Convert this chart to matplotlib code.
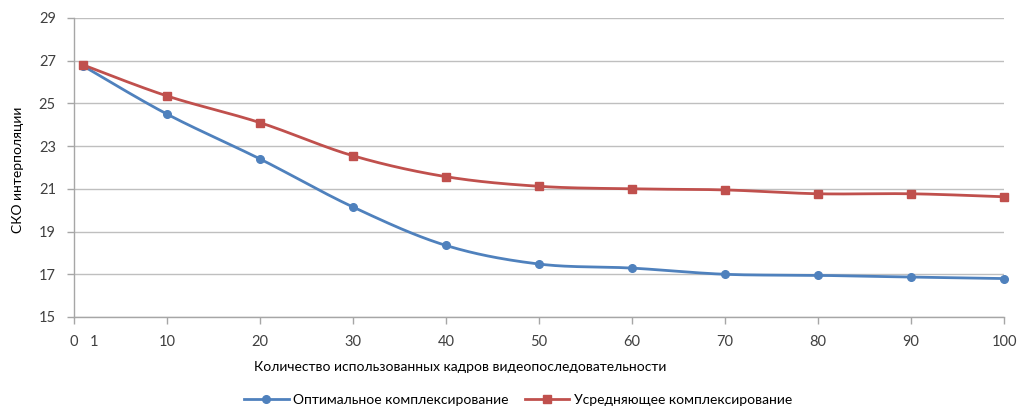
import numpy as np
import matplotlib
matplotlib.use("Agg")
import matplotlib.pyplot as plt
from matplotlib.lines import Line2D
import matplotlib.transforms as mtransforms

plt.rcParams['font.family'] = ['Lato', 'DejaVu Sans']

frames = [1, 10, 20, 30, 40, 50, 60, 70, 80, 90, 100]
optimal = [26.75, 24.5, 22.4, 20.15, 18.35, 17.48, 17.29, 17.0, 16.95, 16.87, 16.8]
averaging = [26.8, 25.35, 24.1, 22.55, 21.57, 21.12, 21.0, 20.95, 20.77, 20.77, 20.63]
series_names = ["Оптимальное комплексирование", "Усредняющее комплексирование"]
x_ticks = [0, 10, 20, 30, 40, 50, 60, 70, 80, 90, 100]
y_ticks = [15, 17, 19, 21, 23, 25, 27, 29]
xlabel = "Количество использованных кадров видеопоследовательности"
ylabel = "СКО интерполяции"

BLUE = "#4F81BD"
RED = "#C0504D"
TXT = "#404040"


def smooth(x, y, n=30):
    x = np.asarray(x, float); y = np.asarray(y, float)
    px = np.concatenate([[x[0]], x, [x[-1]]])
    py = np.concatenate([[y[0]], y, [y[-1]]])
    xs, ys = [], []
    for i in range(1, len(px) - 2):
        p0 = np.array([px[i], py[i]]); p3 = np.array([px[i + 1], py[i + 1]])
        c1 = p0 + (np.array([px[i + 1], py[i + 1]]) - np.array([px[i - 1], py[i - 1]])) / 6
        c2 = p3 - (np.array([px[i + 2], py[i + 2]]) - np.array([px[i], py[i]])) / 6
        t = np.linspace(0, 1, n)[:, None]
        b = (1 - t) ** 3 * p0 + 3 * (1 - t) ** 2 * t * c1 + 3 * (1 - t) * t ** 2 * c2 + t ** 3 * p3
        xs.extend(b[:, 0]); ys.extend(b[:, 1])
    return np.array(xs), np.array(ys)


fig = plt.figure(figsize=(10.18, 4.08), dpi=100)
ax = fig.add_axes([74 / 1018, 1 - 317 / 408, (1004 - 74) / 1018, (317 - 18) / 408])

ax.set_xlim(0, 100)
ax.set_ylim(15, 29)
ax.set_yticks(y_ticks)
ax.set_xticks(x_ticks)
ax.set_xticklabels([str(v) for v in x_ticks])
ax.grid(axis='y', color='#BFBFBF', linewidth=1.0)
ax.set_axisbelow(True)
for s in ['top', 'right']:
    ax.spines[s].set_visible(False)
for s in ['left', 'bottom']:
    ax.spines[s].set_color('#A6A6A6')
    ax.spines[s].set_linewidth(1.0)
ax.tick_params(axis='both', colors='#A6A6A6', labelcolor=TXT, labelsize=10.5, length=5, width=1)
ax.tick_params(axis='x', pad=8)
ax.tick_params(axis='y', pad=8)

for yv, col, mk, ms in [(optimal, BLUE, 'o', 5.5), (averaging, RED, 's', 6)]:
    sx, sy = smooth(frames, yv)
    ax.plot(sx, sy, color=col, lw=2.0, solid_capstyle='round', zorder=3, clip_on=False)
    ax.plot(frames, yv, linestyle='none', marker=mk, ms=ms, color=col, zorder=4, clip_on=False)

# extra "1" label for the first frame
trans = mtransforms.blended_transform_factory(ax.transData, ax.transAxes)
one = ax.text(frames[0] + 1.15, 0, "1", ha='center', va='top', fontsize=10.5, color=TXT)
one.set_transform(trans + mtransforms.ScaledTranslation(0, -13 / 72, fig.dpi_scale_trans))

fig.text(460 / 1018, 1 - 367 / 408, xlabel, ha='center', va='center', fontsize=10, color='black')
fig.text(18 / 1018, 1 - 170 / 408, ylabel, ha='center', va='center', rotation=90, fontsize=10, color='black')

handles = [Line2D([], [], color=BLUE, lw=2, marker='o', ms=5.5),
           Line2D([], [], color=RED, lw=2, marker='s', ms=6)]
fig.legend(handles, series_names, loc='center', bbox_to_anchor=(518 / 1018, 1 - 400 / 408), ncol=2,
           frameon=False, fontsize=10, handlelength=3.2, handletextpad=0.3, columnspacing=1.2,
           labelcolor='black')

fig.savefig("out.png", dpi=100, facecolor='white')
